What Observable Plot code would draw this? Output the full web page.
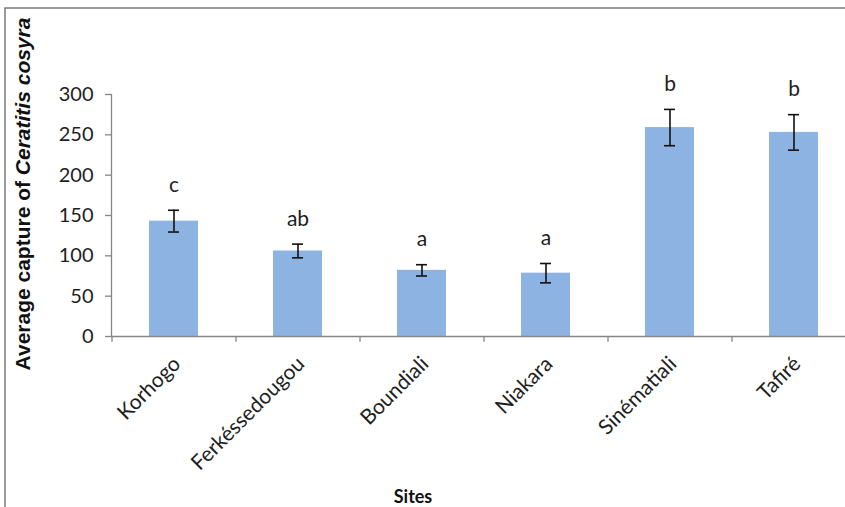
<!DOCTYPE html>
<html>
<head>
<meta charset="utf-8">
<script src="https://cdn.jsdelivr.net/npm/d3@7"></script>
<script src="https://cdn.jsdelivr.net/npm/@observablehq/plot@0.6"></script>
<style>
  html, body { margin: 0; padding: 0; background: #fff; }
  svg { display: block; }
</style>
</head>
<body>
<div id="chart"></div>
<script>
const sites = ["Korhogo", "Ferkéssedougou", "Boundiali", "Niakara", "Sinématiali", "Tafiré"];
const means = [143, 106, 82, 78.5, 259, 253];
const errors = [13.5, 8.5, 7, 12, 22.5, 22];
const letters = ["c", "ab", "a", "a", "b", "b"];
const yTicks = [0, 50, 100, 150, 200, 250, 300];

const data = sites.map((s, i) => ({site: s, mean: means[i], err: errors[i], letter: letters[i]}));

const axisGray = "#868686";
const textColor = "#1e1e1e";
const font = "Lato, 'Open Sans', sans-serif";

const chart = Plot.plot({
  width: 845,
  height: 507,
  marginLeft: 111,
  marginRight: -10,
  marginTop: 94,
  marginBottom: 171,
  style: {fontFamily: font, background: "#fff", overflow: "visible"},
  x: {type: "band", domain: sites, range: [111, 855], paddingInner: 0.605, paddingOuter: 0.3025, axis: null},
  y: {domain: [0, 300], range: [336, 94], axis: null},
  marks: [
    Plot.barY(data, {x: "site", y: "mean", fill: "#8db3e2"}),
    Plot.frame({anchor: "left", stroke: axisGray, strokeWidth: 1.3}),
    Plot.ruleY([0], {stroke: axisGray, strokeWidth: 1.3}),
    Plot.ruleX(data, {x: "site", dx: -62, y1: 0, y2: -7, stroke: axisGray, strokeWidth: 1.3}),
    Plot.axisY({ticks: yTicks, tickSize: 6, tickPadding: 12, fontSize: 20, stroke: axisGray, strokeWidth: 1.3, color: textColor, label: null}),
    Plot.ruleX(data, {x: "site", y1: d => d.mean - d.err, y2: d => d.mean + d.err, stroke: "#111", strokeWidth: 1.6}),
    Plot.tickY(data, {x: "site", y: d => d.mean + d.err, stroke: "#111", strokeWidth: 1.6, insetLeft: 19, insetRight: 19}),
    Plot.tickY(data, {x: "site", y: d => d.mean - d.err, stroke: "#111", strokeWidth: 1.6, insetLeft: 19, insetRight: 19}),
    Plot.text(data, {x: "site", y: d => d.mean + d.err, text: "letter", dy: -25, fontSize: 21, fill: textColor}),
    Plot.text(data, {x: "site", y: 0, text: "site", rotate: -45, textAnchor: "end", lineAnchor: "middle", dx: 3, dy: 24, fontSize: 21, fill: textColor})
  ]
});

document.getElementById("chart").appendChild(chart);

const svg = d3.select(chart);
// outer frame (top and left edges visible)
svg.insert("rect", ":first-child")
  .attr("x", 5).attr("y", 8).attr("width", 900).attr("height", 600)
  .attr("fill", "none").attr("stroke", "#7a7a7a").attr("stroke-width", 1.5);

// Y axis title with italic species name
const yTitle = svg.append("text")
  .attr("transform", "translate(30,194) rotate(-90)")
  .attr("text-anchor", "middle")
  .attr("font-family", "'Liberation Sans', Arial, sans-serif")
  .attr("font-weight", "bold")
  .attr("font-size", 21)
  .attr("fill", "#111");
yTitle.append("tspan").text("Average capture of ");
yTitle.append("tspan").attr("font-style", "italic").text("Ceratitis cosyra");

// X axis title
svg.append("text")
  .attr("x", 413).attr("y", 503)
  .attr("text-anchor", "middle")
  .attr("font-family", font)
  .attr("font-weight", "bold")
  .attr("font-size", 18)
  .attr("fill", "#111")
  .text("Sites");
</script>
</body>
</html>
